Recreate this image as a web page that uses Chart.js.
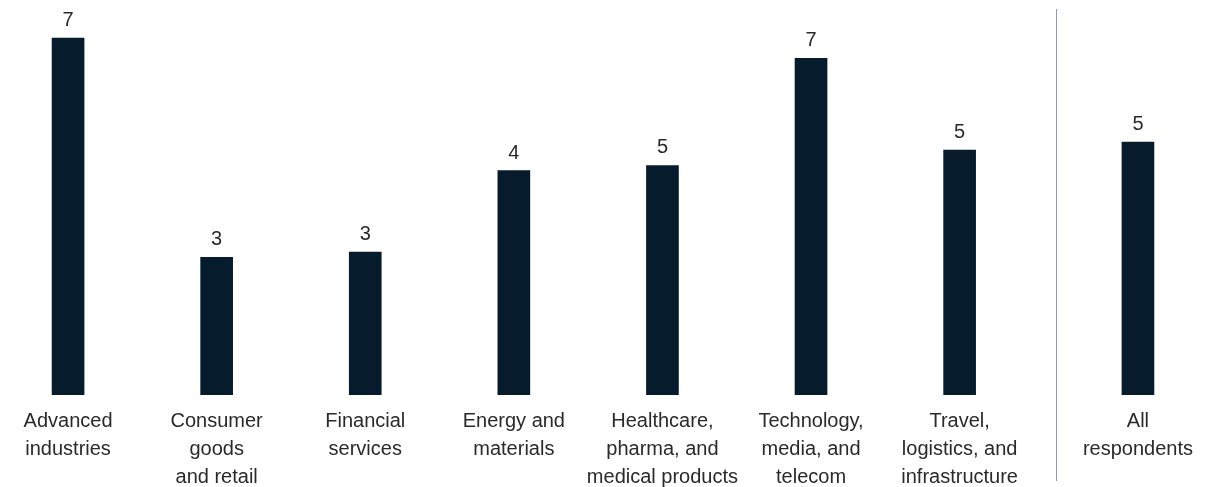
<!DOCTYPE html>
<html>
<head>
<meta charset="utf-8">
<script src="https://cdn.jsdelivr.net/npm/chart.js@4"></script>
<style>
  html, body { margin: 0; padding: 0; background: #ffffff; }
  #wrap { width: 1215px; height: 487px; position: relative; }
</style>
</head>
<body>
<div id="wrap"><canvas id="chart"></canvas></div>
<script>
/* ---------- data ---------- */

const categories = [
  ["Advanced", "industries"],
  ["Consumer", "goods", "and retail"],
  ["Financial", "services"],
  ["Energy and", "materials"],
  ["Healthcare,", "pharma, and", "medical products"],
  ["Technology,", "media, and", "telecom"],
  ["Travel,", "logistics, and", "infrastructure"],
  ["All", "respondents"]
];

const values = [7.0, 2.7, 2.8, 4.4, 4.5, 6.6, 4.8, 4.96];

// x slot of each bar; "All respondents" sits apart after the divider
const slots = [0, 1, 2, 3, 4, 5, 6, 7.2];
const dividerAt = 6.65;

const BAR_COLOR = "#061c2c";
const TEXT_COLOR = "#2a2a2a";
const FONT = "'Liberation Sans', Arial, sans-serif";

/* ---------- plugins ---------- */

const valueLabels = {
  id: "valueLabels",
  afterDatasetsDraw(chart) {
    const ctx = chart.ctx;
    const meta = chart.getDatasetMeta(0);
    ctx.save();
    ctx.font = "20px " + FONT;
    ctx.fillStyle = TEXT_COLOR;
    ctx.textAlign = "center";
    ctx.textBaseline = "alphabetic";
    meta.data.forEach((bar, i) => {
      ctx.fillText(String(Math.round(values[i])), bar.x, bar.y - 12);
    });
    ctx.restore();
  }
};

const divider = {
  id: "divider",
  afterDraw(chart) {
    const ctx = chart.ctx;
    const x = Math.round(chart.scales.x.getPixelForValue(dividerAt)) + 0.5;
    ctx.save();
    ctx.strokeStyle = "#8b9bae";
    ctx.lineWidth = 1;
    ctx.beginPath();
    ctx.moveTo(x, 9);
    ctx.lineTo(x, 481);
    ctx.stroke();
    ctx.restore();
  }
};

/* ---------- chart ---------- */

new Chart(document.getElementById("chart"), {
  type: "bar",
  data: {
    datasets: [{
      data: values.map((v, i) => ({ x: slots[i], y: v })),
      backgroundColor: BAR_COLOR,
      barThickness: 32,
      borderWidth: 0
    }]
  },
  options: {
    responsive: true,
    maintainAspectRatio: false,
    animation: false,
    layout: { padding: 0, autoPadding: false },
    plugins: {
      legend: { display: false },
      tooltip: { enabled: false }
    },
    scales: {
      x: {
        type: "linear",
        offset: false,
        min: -0.458,
        max: 7.7185,
        grid: { display: false },
        border: { display: false },
        afterBuildTicks: axis => {
          axis.ticks = slots.map(v => ({ value: v }));
        },
        afterFit: axis => {
          axis.paddingLeft = 0;
          axis.paddingRight = 0;
          axis.height = 92;
        },
        ticks: {
          autoSkip: false,
          maxRotation: 0,
          padding: 4,
          color: TEXT_COLOR,
          font: { family: FONT, size: 20, lineHeight: 1.4 },
          callback: (value, index) => categories[index]
        }
      },
      y: {
        display: false,
        min: 0,
        max: 7.745
      }
    }
  },
  plugins: [valueLabels, divider]
});
</script>
</body>
</html>
